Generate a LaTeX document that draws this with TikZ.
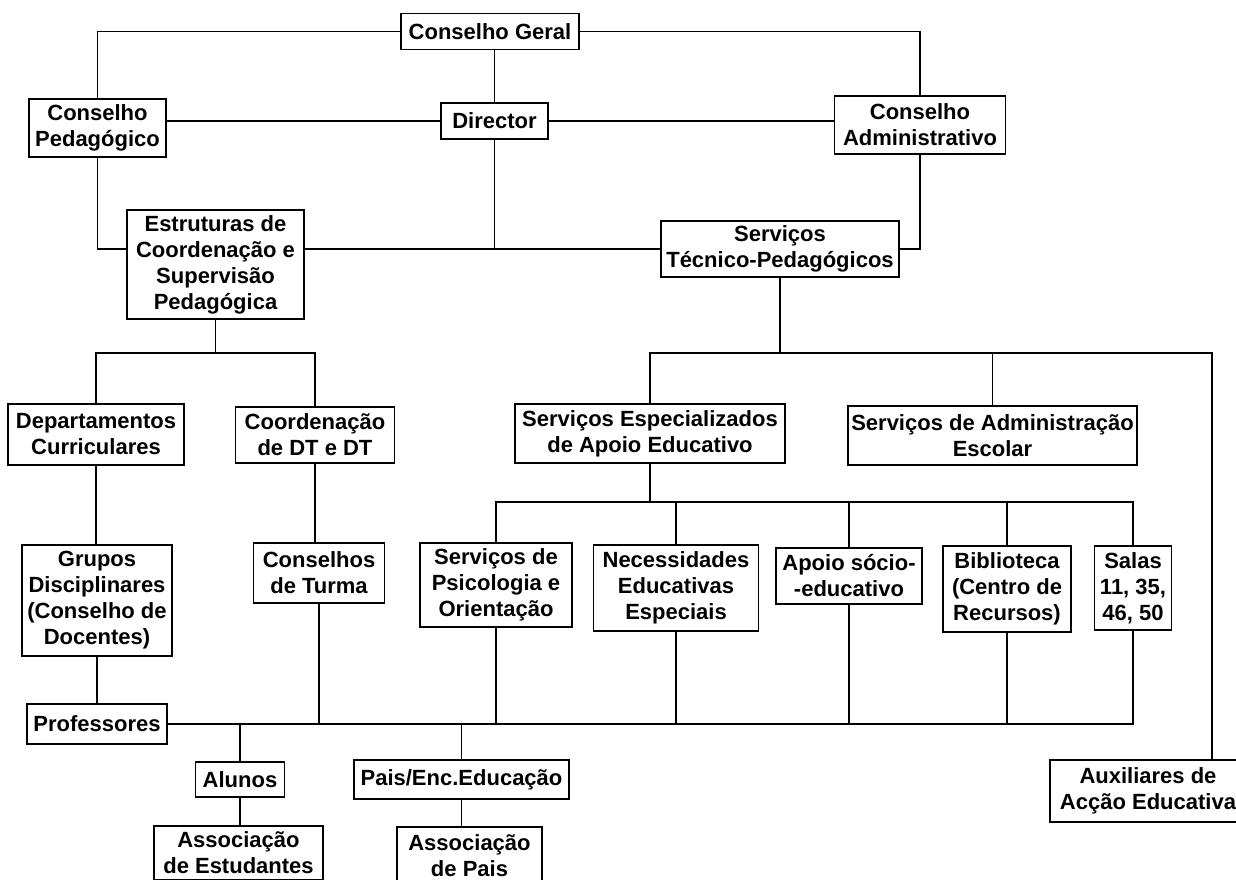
\documentclass[tikz,border=0pt]{standalone}
\usepackage{fontspec}
\setmainfont{Liberation Sans}
\usepackage{tikz}

\tikzset{
  cargo/.style={draw, line width=0.8pt, align=center, inner sep=1pt,
    font=\fontsize{11}{13}\selectfont\bfseries},
  liga/.style={line width=0.8pt}
}

\begin{document}
\begin{tikzpicture}[x=0.5pt, y=-0.5pt]

     \useasboundingbox (0,0) rectangle (1236,879);

     % Define nodes
     \node[cargo, minimum width=89pt, minimum height=18pt]   (cg)     at (490,31.5)   {Conselho Geral};
     \node[cargo, minimum width=53.5pt, minimum height=18pt] (dir)    at (494.5,121)  {Director};
     \node[cargo, minimum width=68.5pt, minimum height=29pt] (cp)     at (97.5,128)   {Conselho\\Pedagógico};
     \node[cargo, minimum width=85.5pt, minimum height=29pt] (ca)     at (920,125)    {Conselho\\Administrativo};
     \node[cargo, minimum width=88.5pt, minimum height=54.5pt] (ecsp) at (215.5,264.5) {Estruturas de\\Coordenação e\\Supervisão\\Pedagógica};
     \node[cargo, minimum width=119pt, minimum height=28pt]  (stp)    at (780,249)    {Serviços\\Técnico-Pedagógicos};
     \node[cargo, minimum width=88pt, minimum height=30.5pt] (dc)     at (96,434.5)   {Departamentos\\Curriculares};
     \node[cargo, minimum width=79.5pt, minimum height=28pt] (cdt)    at (315,435)    {Coordenação\\de DT e DT};
     \node[cargo, minimum width=135pt, minimum height=29.5pt] (seae)  at (650,433.5)  {Serviços Especializados\\de Apoio Educativo};
     \node[cargo, minimum width=144.5pt, minimum height=29.5pt] (sae)  at (992.5,435.5) {Serviços de Administração\\Escolar};
     \node[cargo, minimum width=75pt, minimum height=55.5pt] (gd)     at (97,600.5)   {Grupos\\Disciplinares\\(Conselho de\\Docentes)};
     \node[cargo, minimum width=65.5pt, minimum height=30pt] (ct)     at (319,573)    {Conselhos\\de Turma};
     \node[cargo, minimum width=76pt, minimum height=42pt]   (spo)    at (496,585)    {Serviços de\\Psicologia e\\Orientação};
     \node[cargo, minimum width=82.5pt, minimum height=43pt] (nee)    at (676,588)    {Necessidades\\Educativas\\Especiais};
     \node[cargo, minimum width=73pt, minimum height=28pt]   (ase)    at (849,576)    {Apoio sócio-\\-educativo};
     \node[cargo, minimum width=64pt, minimum height=43pt]   (bib)    at (1007,589)   {Biblioteca\\(Centro de\\Recursos)};
     \node[cargo, minimum width=38.5pt, minimum height=42pt] (salas)  at (1133,588)   {Salas\\11, 35,\\46, 50};
     \node[cargo, minimum width=70pt, minimum height=20pt]   (prof)   at (97,724)     {Professores};
     \node[cargo, minimum width=44.5pt, minimum height=17.5pt] (alunos) at (240,779.5) {Alunos};
     \node[cargo, minimum width=107.5pt, minimum height=19.5pt] (pais) at (461.5,779.5) {Pais/Enc.Educação};
     \node[cargo, minimum width=84.5pt, minimum height=27pt] (ae)     at (238.5,853)  {Associação\\de Estudantes};
     \node[cargo, minimum width=72.5pt, minimum height=29pt] (ap)     at (469.5,856)  {Associação\\de Pais};
     \node[cargo, minimum width=98pt, minimum height=31pt]   (aae)    at (1148,791)   {Auxiliares de\\Acção Educativa};

     % Bus levels
     \coordinate (nivel1) at (0,353);
     \coordinate (nivel2) at (0,502);
     \coordinate (aux)    at (1212,353);

     % Connect the nodes
     \draw[liga] (cg.west) -| (cp.north);
     \draw[liga] (cg.east) -| (ca.north);
     \draw[liga] (dir.north) -- (dir.north |- cg.south);
     \draw[liga] (cp.east |- dir.west) -- (dir.west);
     \draw[liga] (dir.east) -- (dir.east -| ca.west);

     \draw[liga] (cp.south) |- (ecsp.west |- stp.west);
     \draw[liga] (ecsp.east |- stp.west) -- (stp.west);
     \draw[liga] (dir.south) -- (dir.south |- stp.west);
     \draw[liga] (ca.south) |- (stp.east);

     \draw[liga] (ecsp.south) -- (ecsp.south |- nivel1);
     \draw[liga] (dc.north) |- (nivel1 -| cdt.north) -- (cdt.north);
     \draw[liga] (dc.south) -- (dc.south |- gd.north);
     \draw[liga] (cdt.south) -- (cdt.south |- ct.north);
     \draw[liga] (gd.south) -- (gd.south |- prof.north);

     \draw[liga] (stp.south) -- (stp.south |- nivel1);
     \draw[liga] (seae.north) |- (aux) -- (aux |- aae.north);
     \draw[liga] (sae.north) -- (sae.north |- nivel1);

     \draw[liga] (seae.south) -- (seae.south |- nivel2);
     \draw[liga] (spo.north) |- (nivel2 -| salas.north) -- (salas.north);
     \foreach \n in {nee, ase, bib}
       \draw[liga] (\n.north) -- (\n.north |- nivel2);

     \draw[liga] (prof.east) -| (salas.south);
     \foreach \n in {ct, spo, nee, ase, bib}
       \draw[liga] (\n.south) -- (\n.south |- prof.east);
     \draw[liga] (alunos.north) -- (alunos.north |- prof.east);
     \draw[liga] (pais.north) -- (pais.north |- prof.east);
     \draw[liga] (alunos.south) -- (alunos.south |- ae.north);
     \draw[liga] (pais.south) -- (pais.south |- ap.north);

\end{tikzpicture}
\end{document}
